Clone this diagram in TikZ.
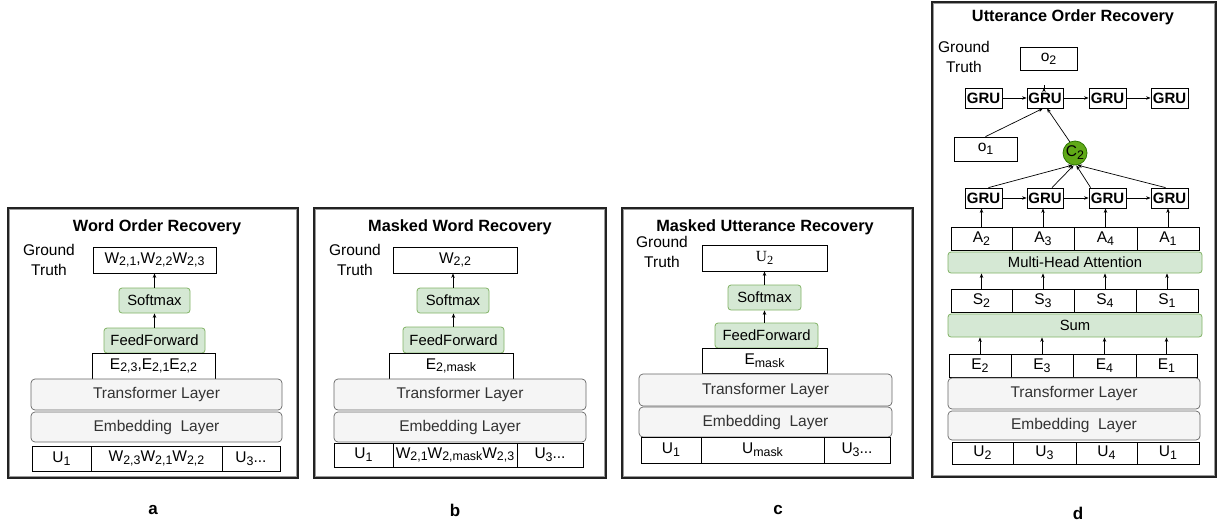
\documentclass[tikz,border=0pt]{standalone}
\usepackage{fontspec}
\usepackage{graphicx}
\setmainfont{Liberation Sans}
\newfontfamily\tnr{Liberation Serif}
\usetikzlibrary{arrows.meta,calc}
\definecolor{gfill}{HTML}{D5E8D4}
\definecolor{gstroke}{HTML}{82B366}
\definecolor{lfill}{HTML}{F5F5F5}
\definecolor{lstroke}{HTML}{666666}
\definecolor{ltext}{HTML}{333333}
\definecolor{cfill}{HTML}{60A917}
\definecolor{cstroke}{HTML}{2D7600}
\definecolor{frmdark}{HTML}{222222}
\definecolor{frmgray}{HTML}{9A9A9A}
\newcommand{\mysub}[1]{\raisebox{-0.35ex}{\scalebox{0.8}{#1}}}
% style, name, x1, y1, x2, y2, text
\newcommand{\bx}[7]{%
  \pgfmathsetmacro\cxx{(#3+#5)/2}\pgfmathsetmacro\cyy{(#4+#6)/2}%
  \pgfmathsetmacro\ww{#5-#3}\pgfmathsetmacro\hh{#6-#4}%
  \node[#1, minimum width=\ww pt, minimum height=\hh pt] (#2) at (\cxx,\cyy) {#7};}
\newcommand{\panelframe}[4]{%
  \draw[draw=frmdark, line width=1.2pt] (#1,#2) rectangle (#3,#4);
  \draw[draw=frmgray, line width=0.7pt] ($(#1,#2)+(1.5,1.5)$) rectangle ($(#3,#4)+(-1.5,-1.5)$);}
\begin{document}
\begin{tikzpicture}[x=1pt,y=-1pt,
  every node/.style={font=\fontsize{15.5}{17}\selectfont, inner sep=0pt},
  cell/.style={draw=black, line width=0.8pt, fill=white},
  grn/.style={draw=gstroke, fill=gfill, line width=0.8pt, rounded corners=3pt, font=\fontsize{14.8}{16}\selectfont},
  lay/.style={draw=lstroke, fill=lfill, line width=0.7pt, rounded corners=4pt, text=ltext, font=\fontsize{15.5}{17}\selectfont},
  gru/.style={draw=black, line width=0.8pt, fill=white, font=\fontsize{15}{17}\selectfont\bfseries},
  ttl/.style={font=\fontsize{16.3}{18}\selectfont\bfseries},
  gt/.style={align=center, font=\fontsize{15.5}{20}\selectfont},
  arr/.style={-{Stealth[length=4.5pt,width=3.5pt]}, line width=0.7pt},
  lbl/.style={font=\fontsize{17}{19}\selectfont\bfseries}]
\useasboundingbox (0,0) rectangle (1218,528);

% ---------------- Panel a ----------------
\panelframe{8}{208}{298}{478}
\node[ttl] (ta0) at (157,227) {Word Order Recovery};
\node[gt] (gta) at (49,260) {Ground\\Truth};
\bx{cell}{wa}{93}{247}{216}{273}{W\mysub{2,1},W\mysub{2,2}W\mysub{2,3}}
\bx{grn}{sa}{119}{288}{190}{313}{Softmax}
\bx{grn}{fa}{104}{328}{205}{353}{FeedForward}
\bx{cell}{ea}{92}{353}{215}{379}{E\mysub{2,3},E\mysub{2,1}E\mysub{2,2}}
\bx{lay}{tla}{31}{379}{282}{410}{Transformer Layer}
\bx{lay}{ela}{31}{412}{282}{442}{Embedding\ \ Layer}
\bx{cell}{ua1}{32}{446}{91}{471}{U\mysub{1}}
\bx{cell}{ua2}{91}{446}{222}{471}{W\mysub{2,3}W\mysub{2,1}W\mysub{2,2}}
\bx{cell}{ua3}{222}{446}{280}{471}{U\mysub{3}...}
\draw[arr] (fa.north) -- (sa.south);
\draw[arr] (sa.north) -- (sa.north |- wa.south);
\node[lbl] (la) at (153,510) {a};

% ---------------- Panel b ----------------
\panelframe{314}{208}{606}{478}
\node[ttl] (tb0) at (460,227) {Masked Word Recovery};
\node[gt] (gtb) at (355,260) {Ground\\Truth};
\bx{cell}{wb}{393}{247}{517}{273}{W\mysub{2,2}}
\bx{grn}{sb}{417}{288}{489}{313}{Softmax}
\bx{grn}{fb}{403}{327}{504}{353}{FeedForward}
\bx{cell}{eb}{389}{353}{513}{379}{E\mysub{2,mask}}
\bx{lay}{tlb}{334}{379}{586}{410}{Transformer Layer}
\bx{lay}{elb}{334}{412}{586}{442}{Embedding Layer}
\bx{cell}{ub1}{334}{443}{393}{467}{U\mysub{1}}
\bx{cell}{ub2}{393}{443}{517}{467}{W\mysub{2,1}W\mysub{2,mask}W\mysub{2,3}}
\bx{cell}{ub3}{517}{443}{583}{467}{U\mysub{3}...}
\draw[arr] (fb.north) -- (fb.north |- sb.south);
\draw[arr] (sb.north) -- (sb.north |- wb.south);
\node[lbl] (lb) at (455,510) {b};

% ---------------- Panel c ----------------
\panelframe{622}{208}{913}{478}
\node[ttl] (tc0) at (765,227) {Masked Utterance Recovery};
\node[gt] (gtc) at (662,252) {Ground\\Truth};
\bx{cell}{uc}{702}{245}{827}{271}{\tnr U\mysub{2}}
\bx{grn}{sc}{728}{285}{801}{310}{Softmax}
\bx{grn}{fc}{715}{323}{818}{348}{FeedForward}
\bx{cell}{ec}{702}{348}{827}{373}{E\mysub{mask}}
\bx{lay}{tlc}{639}{374}{892}{406}{Transformer Layer}
\bx{lay}{elc}{639}{407}{892}{437}{Embedding\ \ Layer}
\bx{cell}{uc1}{641}{437}{701}{463}{U\mysub{1}}
\bx{cell}{uc2}{701}{437}{824}{463}{U\mysub{mask}}
\bx{cell}{uc3}{824}{437}{890}{463}{U\mysub{3}...}
\draw[arr] (sc.south |- fc.north) -- (sc.south);
\draw[arr] (sc.north) -- (sc.north |- uc.south);
\node[lbl] (lc) at (778,510) {c};

% ---------------- Panel d ----------------
\panelframe{932}{2}{1216}{477}
\node[ttl] (td0) at (1073,17) {Utterance Order Recovery};
\node[gt] (gtd) at (964,57) {Ground\\Truth};
\bx{cell}{o2}{1020}{47}{1077}{70}{o\mysub{2}}
\bx{gru}{gu1}{965}{88}{1002}{108}{GRU}
\bx{gru}{gu2}{1027}{88}{1063}{108}{GRU}
\bx{gru}{gu3}{1089}{88}{1126}{108}{GRU}
\bx{gru}{gu4}{1151}{88}{1188}{108}{GRU}
\bx{cell}{o1}{954}{137}{1017}{161}{o\mysub{1}}
\node[circle, draw=cstroke, fill=cfill, line width=0.8pt, minimum size=24pt] (c2) at (1075,153) {C\mysub{2}};
\bx{gru}{gl1}{965}{188}{1002}{208}{GRU}
\bx{gru}{gl2}{1027}{188}{1063}{208}{GRU}
\bx{gru}{gl3}{1089}{188}{1126}{208}{GRU}
\bx{gru}{gl4}{1151}{188}{1188}{208}{GRU}
\bx{cell}{a1}{951}{227}{1012}{250}{A\mysub{2}}
\bx{cell}{a2}{1012}{227}{1074}{250}{A\mysub{3}}
\bx{cell}{a3}{1074}{227}{1137}{250}{A\mysub{4}}
\bx{cell}{a4}{1137}{227}{1199}{250}{A\mysub{1}}
\bx{grn}{mha}{948}{252}{1202}{273}{Multi-Head Attention}
\bx{cell}{s1}{951}{289}{1012}{312}{S\mysub{2}}
\bx{cell}{s2}{1012}{289}{1074}{312}{S\mysub{3}}
\bx{cell}{s3}{1074}{289}{1136}{312}{S\mysub{4}}
\bx{cell}{s4}{1136}{289}{1198}{312}{S\mysub{1}}
\bx{grn}{sum}{948}{314}{1202}{337}{Sum}
\bx{cell}{e1}{949}{354}{1011}{377}{E\mysub{2}}
\bx{cell}{e2}{1011}{354}{1073}{377}{E\mysub{3}}
\bx{cell}{e3}{1073}{354}{1136}{377}{E\mysub{4}}
\bx{cell}{e4}{1136}{354}{1197}{377}{E\mysub{1}}
\bx{lay}{tld}{948}{378}{1200}{409}{Transformer Layer}
\bx{lay}{eld}{948}{411}{1200}{440}{Embedding\ \ Layer}
\bx{cell}{u1}{952}{442}{1013}{464}{U\mysub{2}}
\bx{cell}{u2}{1013}{442}{1076}{464}{U\mysub{3}}
\bx{cell}{u3}{1076}{442}{1137}{464}{U\mysub{4}}
\bx{cell}{u4}{1137}{442}{1199}{464}{U\mysub{1}}
% upper arrows
\draw[arr] (gu1.east) -- (gu2.west);
\draw[arr] (gu2.east) -- (gu3.west);
\draw[arr] (gu3.east) -- (gu4.west);
\draw[arr] ($(gu2.north)+(-1,0)$) -- ($(gu2.north)+(-1,0)$ |- o2.south);
\draw[arr] (o1.north) -- ($(gu2.south)+(-2,0)$);
\draw[arr] (c2.115) -- ($(gu2.south)+(2,0)$);
% lower GRU row
\draw[arr] (gl1.east) -- (gl2.west);
\draw[arr] (gl2.east) -- (gl3.west);
\draw[arr] (gl3.east) -- (gl4.west);
\draw[arr] ($(gl1.north)+(5,0)$) -- (c2.258);
\draw[arr] ($(gl2.north)+(7,0)$) -- (c2.264);
\draw[arr] ($(gl3.north west)+(2,0)$) -- (c2.276);
\draw[arr] ($(gl4.north)+(-4,0)$) -- (c2.282);
% A -> GRU
\draw[arr] (a1.north) -- (a1.north |- gl1.south);
\draw[arr] (a2.north) -- (a2.north |- gl2.south);
\draw[arr] (a3.north) -- (a3.north |- gl3.south);
\draw[arr] (a4.north) -- (a4.north |- gl4.south);
% S -> MHA
\draw[arr] (s1.north) -- (s1.north |- mha.south);
\draw[arr] (s2.north) -- (s2.north |- mha.south);
\draw[arr] (s3.north) -- (s3.north |- mha.south);
\draw[arr] (s4.north) -- (s4.north |- mha.south);
% E -> Sum
\draw[arr] (e1.north) -- (e1.north |- sum.south);
\draw[arr] (e2.north) -- (e2.north |- sum.south);
\draw[arr] (e3.north) -- (e3.north |- sum.south);
\draw[arr] (e4.north) -- (e4.north |- sum.south);
\node[lbl] (ld) at (1078,513) {d};
\end{tikzpicture}
\end{document}
